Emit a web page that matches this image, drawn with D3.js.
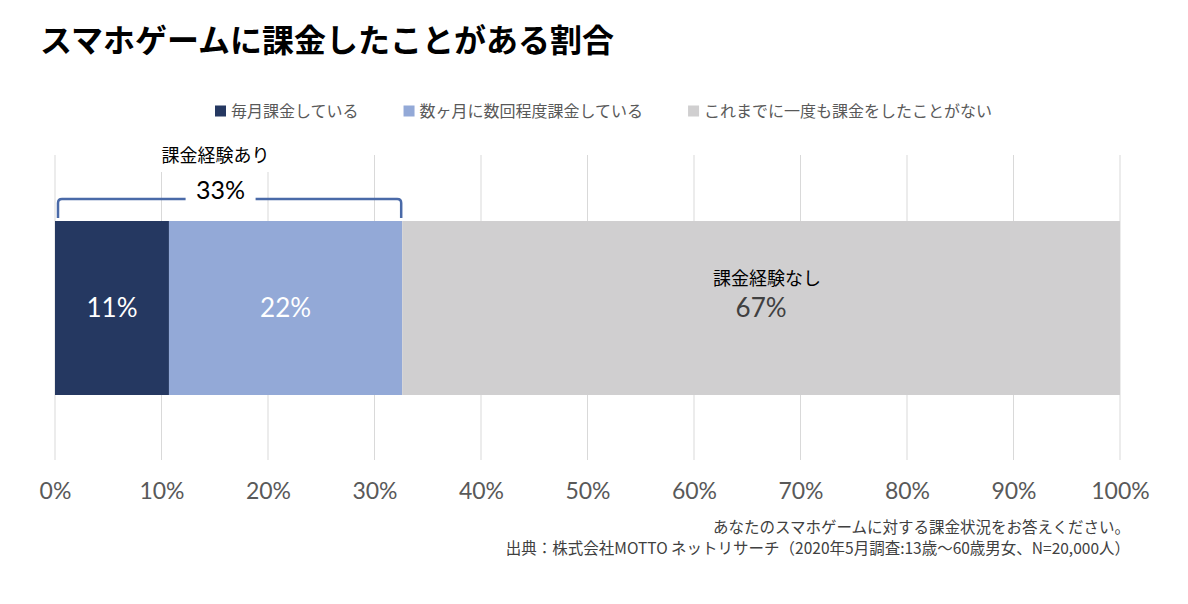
<!DOCTYPE html>
<html>
<head>
<meta charset="utf-8">
<script src="https://cdn.jsdelivr.net/npm/d3@7"></script>
<style>
  body { margin: 0; background: #fff; }
  svg { display: block; font-family: "Noto Sans CJK JP", "Noto Sans", sans-serif; }
</style>
</head>
<body>
<div id="chart"></div>
<script>
// Chart data
const categories = ["毎月課金している", "数ヶ月に数回程度課金している", "これまでに一度も課金をしたことがない"];
const values = [10.7, 21.9, 67.4];
const valueLabels = ["11%", "22%", "67%"];
const colors = ["#253861", "#93a9d7", "#d0cfd0"];
const tickValues = [0, 10, 20, 30, 40, 50, 60, 70, 80, 90, 100];
const groupLabels = ["課金経験あり", "課金経験なし"];
const groupTotals = ["33%", "67%"];
const title = "スマホゲームに課金したことがある割合";
const notes = ["あなたのスマホゲームに対する課金状況をお答えください。",
               "出典：株式会社MOTTO ネットリサーチ（2020年5月調査:13歳～60歳男女、N=20,000人）"];

const width = 1188, height = 604;
const numFont = "Lato, 'Noto Sans CJK JP', sans-serif";
const svg = d3.select("#chart").append("svg")
    .attr("width", width)
    .attr("height", height);

// x scale, 0% .. 100%
const x = d3.scaleLinear().domain([0, 100]).range([55, 1120]);
const barTop = 221, barBottom = 395;
const gridTop = 155, gridBottom = 460;

// Title
svg.append("text")
    .attr("x", 40).attr("y", 52)
    .attr("font-size", 32).attr("font-weight", "bold")
    .attr("fill", "#000")
    .text(title);

// Legend
let lx = 215;
categories.forEach((c, i) => {
    const g = svg.append("g").attr("transform", `translate(${lx},111)`);
    g.append("rect").attr("x", 0).attr("y", -5.5).attr("width", 11).attr("height", 11).attr("fill", colors[i]);
    const t = g.append("text").attr("x", 16).attr("y", 5.5)
        .attr("font-size", 16).attr("fill", "#595959").text(c);
    lx += 16 + t.node().getComputedTextLength() + 45;
});

// Grid lines
svg.append("g").selectAll("line")
    .data(tickValues)
    .join("line")
    .attr("x1", d => x(d)).attr("x2", d => x(d))
    .attr("y1", gridTop).attr("y2", gridBottom)
    .attr("stroke", "#d9d9d9").attr("stroke-width", 1);

// Axis labels
const axis = svg.append("g")
    .attr("transform", `translate(0,${gridBottom})`)
    .call(d3.axisBottom(x).tickValues(tickValues).tickSize(0).tickPadding(23).tickFormat(d => d + "%"));
axis.select(".domain").remove();
axis.selectAll("text")
    .attr("font-size", 23).attr("fill", "#595959")
    .attr("font-family", numFont);

// Stacked bar
const stack = [];
let acc = 0;
values.forEach((v, i) => { stack.push({ x0: acc, x1: acc + v, i }); acc += v; });

svg.append("g").selectAll("rect")
    .data(stack)
    .join("rect")
    .attr("x", d => x(d.x0))
    .attr("width", d => x(d.x1) - x(d.x0))
    .attr("y", barTop)
    .attr("height", barBottom - barTop)
    .attr("fill", d => colors[d.i]);

const midY = (barTop + barBottom) / 2;

// Segment labels for the first two (white)
svg.append("g").selectAll("text")
    .data(stack.slice(0, 2))
    .join("text")
    .attr("x", d => x((d.x0 + d.x1) / 2))
    .attr("y", midY + 9)
    .attr("text-anchor", "middle")
    .attr("font-size", 26).attr("fill", "#fff")
    .attr("font-family", numFont)
    .text(d => valueLabels[d.i]);

// Label for the last segment
const last = stack[2];
const lastX = x((last.x0 + last.x1) / 2);
svg.append("text")
    .attr("x", lastX + 6).attr("y", midY - 23)
    .attr("text-anchor", "middle")
    .attr("font-size", 18).attr("fill", "#000")
    .text(groupLabels[1]);
svg.append("text")
    .attr("x", lastX).attr("y", midY + 9)
    .attr("text-anchor", "middle")
    .attr("font-size", 26).attr("fill", "#404040")
    .attr("font-family", numFont)
    .text(groupTotals[1]);

// Bracket over the paying segments
const bx0 = x(stack[0].x0) + 3, bx1 = x(stack[1].x1) - 1;
const by = 199, bEnd = 218, r = 4;
const bMid = (bx0 + bx1) / 2 - 9;
const gapHalf = 35;
const bracket = d3.path();
bracket.moveTo(bx0, bEnd);
bracket.lineTo(bx0, by + r);
bracket.quadraticCurveTo(bx0, by, bx0 + r, by);
bracket.lineTo(bMid - gapHalf, by);
bracket.moveTo(bMid + gapHalf, by);
bracket.lineTo(bx1 - r, by);
bracket.quadraticCurveTo(bx1, by, bx1, by + r);
bracket.lineTo(bx1, bEnd);

// white boxes behind bracket texts cover the grid
svg.append("rect")
    .attr("x", bMid - gapHalf).attr("y", 174).attr("width", gapHalf * 2).attr("height", 32)
    .attr("fill", "#fff");
svg.append("rect")
    .attr("x", bMid - 5 - 62).attr("y", 142).attr("width", 124).attr("height", 30)
    .attr("fill", "#fff");

svg.append("path")
    .attr("d", bracket.toString())
    .attr("fill", "none")
    .attr("stroke", "#4a6aa8")
    .attr("stroke-width", 2.5);

svg.append("text")
    .attr("x", bMid).attr("y", 199)
    .attr("text-anchor", "middle")
    .attr("font-size", 25).attr("fill", "#000")
    .attr("font-family", numFont)
    .text(groupTotals[0]);

svg.append("text")
    .attr("x", bMid - 5).attr("y", 162)
    .attr("text-anchor", "middle")
    .attr("font-size", 18).attr("fill", "#000")
    .text(groupLabels[0]);

// Notes
svg.append("g").selectAll("text")
    .data(notes)
    .join("text")
    .attr("x", 1130)
    .attr("y", (d, i) => 533 + i * 21)
    .attr("text-anchor", "end")
    .attr("font-size", 15.5).attr("fill", "#404040")
    .text(d => d);
</script>
</body>
</html>
